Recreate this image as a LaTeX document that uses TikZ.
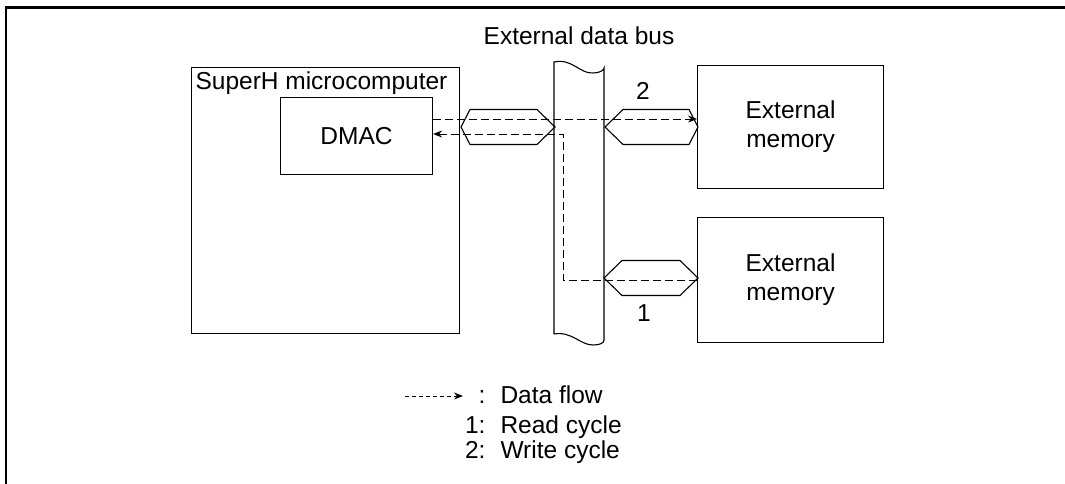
\documentclass[tikz,border=0pt]{standalone}
\usepackage{fontspec}
\setmainfont{Liberation Sans}
\usetikzlibrary{positioning,arrows.meta}

\newcommand{\buslink}[5]{%
  \draw[line join=miter] (#1,#3) -- ({#1+#4},{#3-17.5}) -- ({#2-#5},{#3-17.5}) -- (#2,#3)
    -- ({#2-#5},{#3+17.5}) -- ({#1+#4},{#3+17.5}) -- cycle;}

\begin{document}
\begin{tikzpicture}[x=1pt, y=-1pt, line width=1.1pt,
  box/.style={draw, rectangle, inner sep=0pt, align=center, font=\fontsize{24.5}{29}\selectfont},
  txt/.style={inner sep=0pt, font=\fontsize{24.5}{29}\selectfont},
  flow/.style={dash pattern=on 8pt off 4pt, line width=0.9pt, -{Stealth[length=9pt,width=7pt]}},
]
\useasboundingbox (0,0) rectangle (1065,484);
\draw[line width=2.5pt, line join=miter] (6,484) -- (6,7.5) -- (1065,7.5);

\node[box, minimum width=268pt, minimum height=266pt, anchor=north west] (mcu) at (191,67) {};
\node[txt, anchor=base west] (mcul) at (195,90) {SuperH microcomputer};
\node[box, minimum width=152pt, minimum height=77pt, anchor=north west] (dmac) at (280,97) {DMAC};
\node[box, minimum width=186pt, minimum height=123pt, anchor=north west] (mem1) at (697,65) {External\\memory};
\node[box, minimum width=186pt, minimum height=125pt, below=28pt of mem1] (mem2) {External\\memory};

\draw (554,334) -- (554,62) .. controls (572,58) and (580,74) .. (593,73)
  .. controls (600,73) and (604,70) .. (604,68) -- (604,340)
  .. controls (604,343) and (600,345) .. (593,345)
  .. controls (580,345) and (572,331) .. (554,334);
\node[txt, anchor=base] (busl) at (579,45) {External data bus};

\buslink{461}{555}{127}{9}{18}
\buslink{605}{698}{127}{18}{9}
\buslink{604}{698}{278}{18}{18}

\coordinate (wr) at (697,119);
\coordinate (rd) at (563,134);
\draw[flow] (dmac.east |- wr) -- (wr);
\draw[flow] (mem2.west) -| (rd) -- (dmac.east |- rd);
\node[txt, anchor=base] (n2) at (643,100) {2};
\node[txt, anchor=base] (n1) at (644,321) {1};

\node[txt, anchor=base west] (ldf) at (500,403) {Data flow};
\node[txt, anchor=base west] (lrc) at (500,433) {Read cycle};
\node[txt, anchor=base west] (lwc) at (500,458) {Write cycle};
\node[txt, anchor=base east] (ldfc) at ([xshift=-14pt]ldf.base west) {:};
\node[txt, anchor=base east] (lrcn) at ([xshift=-14pt]lrc.base west) {1:};
\node[txt, anchor=base east] (lwcn) at ([xshift=-14pt]lwc.base west) {2:};
\coordinate (la) at (405,396);
\coordinate (lb) at (463,396);
\draw[flow, line width=0.8pt, dash pattern=on 4pt off 3pt] (la) -- (lb);
\end{tikzpicture}
\end{document}
